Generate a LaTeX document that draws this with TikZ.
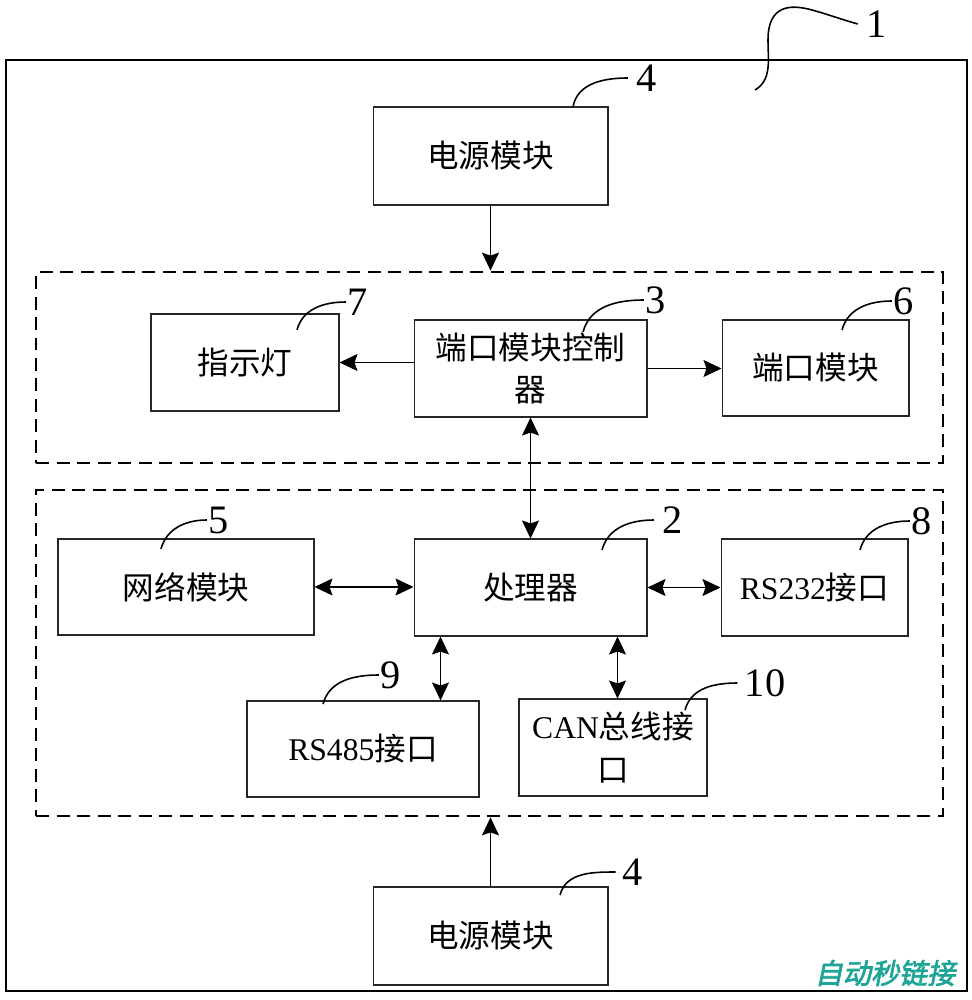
\documentclass[tikz,border=0pt]{standalone}
\usepackage{fontspec}
\setmainfont{Liberation Serif}
\newfontfamily\cjk{Noto Sans CJK SC}
\newfontfamily\wmfont[FakeBold=2.5,FakeSlant=0.2]{Noto Sans CJK SC}
\usetikzlibrary{arrows.meta}
\newcommand{\zh}[1]{{\cjk #1}}
\definecolor{wmteal}{RGB}{30,165,150}
\tikzset{
  box/.style={draw=black!85,line width=0.6pt,align=center,font=\fontsize{18}{24}\selectfont},
  grp/.style={draw,line width=1.6pt,dash pattern=on 2.6mm off 1.5mm},
  tag/.style={inner sep=1pt,font=\fontsize{23}{23}\selectfont},
  lead/.style={line width=0.9pt},
  tip/.tip={Stealth[length=3.6mm,width=3.4mm,inset=0.6mm]},
  arr/.style={line width=0.6pt,-tip},
  dbl/.style={line width=0.6pt,tip-tip},
}

\begin{document}
\begin{tikzpicture}[x=0.02cm,y=-0.02cm]
  \useasboundingbox (0,0) rectangle (972,1000);
  \draw[line width=1pt] (6,60) rectangle (967,991);
  \node[grp,minimum width=18.14cm,minimum height=3.82cm] (upper) at (489.5,367.5) {};
  \node[grp,minimum width=18.14cm,minimum height=6.52cm] (lower) at (489.5,653) {};

  \node[box,minimum width=4.7cm,minimum height=1.96cm] (pwrtop) at (490.5,156) {\zh{电源模块}};
  \node[box,minimum width=3.76cm,minimum height=1.94cm] (led) at (245,362.5) {\zh{指示灯}};
  \node[box,minimum width=4.66cm,minimum height=1.94cm] (ctrl) at (530.5,368.5) {\zh{端口模块控制}\\\zh{器}};
  \node[box,minimum width=3.74cm,minimum height=1.92cm] (port) at (815.5,368) {\zh{端口模块}};
  \node[box,minimum width=5.12cm,minimum height=1.92cm] (net) at (186,587) {\zh{网络模块}};
  \node[box,minimum width=4.66cm,minimum height=1.94cm] (cpu) at (530.5,587.5) {\zh{处理器}};
  \node[box,minimum width=3.74cm,minimum height=1.94cm] (rsa) at (814.5,587.5) {RS232\zh{接口}};
  \node[box,minimum width=4.64cm,minimum height=1.92cm] (rsb) at (363,749) {RS485\zh{接口}};
  \node[box,minimum width=3.76cm,minimum height=1.94cm] (can) at (613,747.5) {CAN\zh{总线接}\\\zh{口}};
  \node[box,minimum width=4.7cm,minimum height=1.96cm] (pwrbot) at (490.5,936) {\zh{电源模块}};

  \draw[arr] (pwrtop.south) -- (pwrtop.south |- upper.north);
  \draw[arr] (ctrl.west |- led.east) -- (led.east);
  \draw[arr] (ctrl.east) -- (ctrl.east -| port.west);
  \draw[dbl] (ctrl.south) -- (ctrl.south |- cpu.north);
  \draw[dbl] (net.east) -- (net.east -| cpu.west);
  \draw[dbl] (cpu.east) -- (cpu.east -| rsa.west);
  \draw[dbl] ([xshift=0.54cm]cpu.south west) -- ([xshift=0.54cm]cpu.south west |- rsb.north);
  \draw[dbl] ([xshift=-0.6cm]cpu.south east) -- ([xshift=-0.6cm]cpu.south east |- can.north);
  \draw[arr] (pwrbot.north) -- (pwrbot.north |- lower.south);

  \node[tag] (n1) at (877,24) {1};
  \node[tag] (t4a) at (647,78) {4};
  \node[tag] (t7) at (358,302) {7};
  \node[tag] (t3) at (656,300) {3};
  \node[tag] (t6) at (904,301) {6};
  \node[tag] (t5) at (219,520) {5};
  \node[tag] (t2) at (673,520) {2};
  \node[tag] (t8) at (922,521) {8};
  \node[tag] (t9) at (391,675) {9};
  \node[tag] (t10) at (765,683) {10};
  \node[tag] (t4b) at (633,872) {4};

  \draw[lead] (755,90) .. controls (772,80) and (768,60) .. (768,40) .. controls (768,5) and (790,4) .. (812,10) .. controls (830,15) and (840,19) .. ([xshift=-4pt]n1.west);
  \draw[lead] (573,107) to[out=80,in=180] ([xshift=-4pt]t4a.west);
  \draw[lead] (297,330) to[out=75,in=180] (t7.west);
  \draw[lead] (583,332) to[out=75,in=180] (t3.west);
  \draw[lead] (842,330) to[out=75,in=180] (t6.west);
  \draw[lead] (161,549) to[out=75,in=180] (t5.west);
  \draw[lead] (602,550) to[out=75,in=180] ([xshift=-4pt]t2.west);
  \draw[lead] (860,550) to[out=75,in=180] (t8.west);
  \draw[lead] (323,704) to[out=75,in=180] (t9.west);
  \draw[lead] (685,710) to[out=75,in=180] ([xshift=-3pt]t10.west);
  \draw[lead] (560,895) to[out=75,in=180] ([xshift=-3pt]t4b.west);

  \node[text=wmteal,font=\wmfont\fontsize{16}{16}\selectfont] (mark) at (885,973) {自动秒链接};
\end{tikzpicture}
\end{document}
